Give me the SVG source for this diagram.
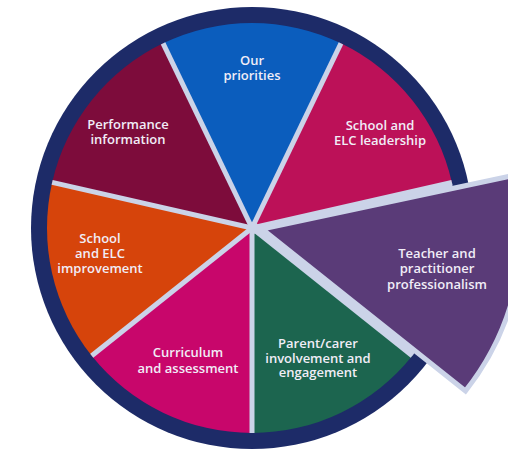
<svg xmlns="http://www.w3.org/2000/svg" width="508" height="452" viewBox="0 0 508 452">
  <style>
    .lbl { font-family: "Open Sans", "Noto Sans", "Liberation Sans", sans-serif; font-size: 13px; font-weight: 600; fill: #f1edf7; text-anchor: middle; }
    .sep { stroke: #cbd3e8; stroke-width: 5; stroke-linecap: butt; fill: none; }
  </style>
  <rect width="508" height="452" fill="#ffffff"/>
  <g id="ring">
    <circle cx="252" cy="228" r="221" fill="#1d2b68"/>
  </g>
  <g id="our-priorities">
    <path d="M252 228 L163.05 43.3 A205 205 0 0 1 340.95 43.3 Z" fill="#0b5dbd"/>
    <text class="lbl" x="252" y="65">Our</text>
    <text class="lbl" x="252" y="80">priorities</text>
  </g>
  <g id="school-elc-leadership">
    <path d="M252 228 L340.95 43.3 A205 205 0 0 1 451.86 182.4 Z" fill="#bc1158"/>
    <text class="lbl" x="380" y="130">School and</text>
    <text class="lbl" x="380" y="145">ELC leadership</text>
  </g>
  <g id="teacher-underlay">
    <path d="M252 228 L451.86 182.4 A205 205 0 0 1 412.28 355.8 Z" fill="#cbd3e8"/>
  </g>
  <g id="parent-carer">
    <path d="M252 228 L412.28 355.8 A205 205 0 0 1 252 433 Z" fill="#1c654f"/>
    <text class="lbl" x="318" y="348">Parent/carer</text>
    <text class="lbl" x="318" y="363">involvement and</text>
    <text class="lbl" x="318" y="377">engagement</text>
  </g>
  <g id="curriculum">
    <path d="M252 228 L252 433 A205 205 0 0 1 91.72 355.8 Z" fill="#c8066b"/>
    <text class="lbl" x="188" y="357">Curriculum</text>
    <text class="lbl" x="188" y="373">and assessment</text>
  </g>
  <g id="school-elc-improvement">
    <path d="M252 228 L91.72 355.8 A205 205 0 0 1 52.14 182.4 Z" fill="#d6440b"/>
    <text class="lbl" x="100" y="243">School</text>
    <text class="lbl" x="100" y="258">and ELC</text>
    <text class="lbl" x="100" y="273">improvement</text>
  </g>
  <g id="performance-information">
    <path d="M252 228 L52.14 182.4 A205 205 0 0 1 163.05 43.3 Z" fill="#7d0c3b"/>
    <text class="lbl" x="128" y="129">Performance</text>
    <text class="lbl" x="128" y="144">information</text>
  </g>
  <g id="separators">
    <line class="sep" x1="252" y1="228" x2="163.05" y2="43.3"/>
    <line class="sep" x1="252" y1="228" x2="340.95" y2="43.3"/>
    <line class="sep" x1="252" y1="228" x2="451.86" y2="182.4"/>
    <line class="sep" x1="252" y1="228" x2="412.28" y2="355.8"/>
    <line class="sep" x1="252" y1="228" x2="252" y2="433"/>
    <line class="sep" x1="252" y1="228" x2="91.72" y2="355.8"/>
    <line class="sep" x1="252" y1="228" x2="52.14" y2="182.4"/>
    <circle cx="253" cy="228" r="6" fill="#cbd3e8"/>
  </g>
  <g id="teacher-practitioner">
    <path d="M262 229 L516.3 174.9 A260 260 0 0 1 465.5 390.9 Z" fill="#5a3b78" stroke="#cbd3e8" stroke-width="5" stroke-linejoin="miter" stroke-miterlimit="10"/>
    <text class="lbl" x="437" y="258">Teacher and</text>
    <text class="lbl" x="437" y="273">practitioner</text>
    <text class="lbl" x="437" y="289">professionalism</text>
  </g>
</svg>
